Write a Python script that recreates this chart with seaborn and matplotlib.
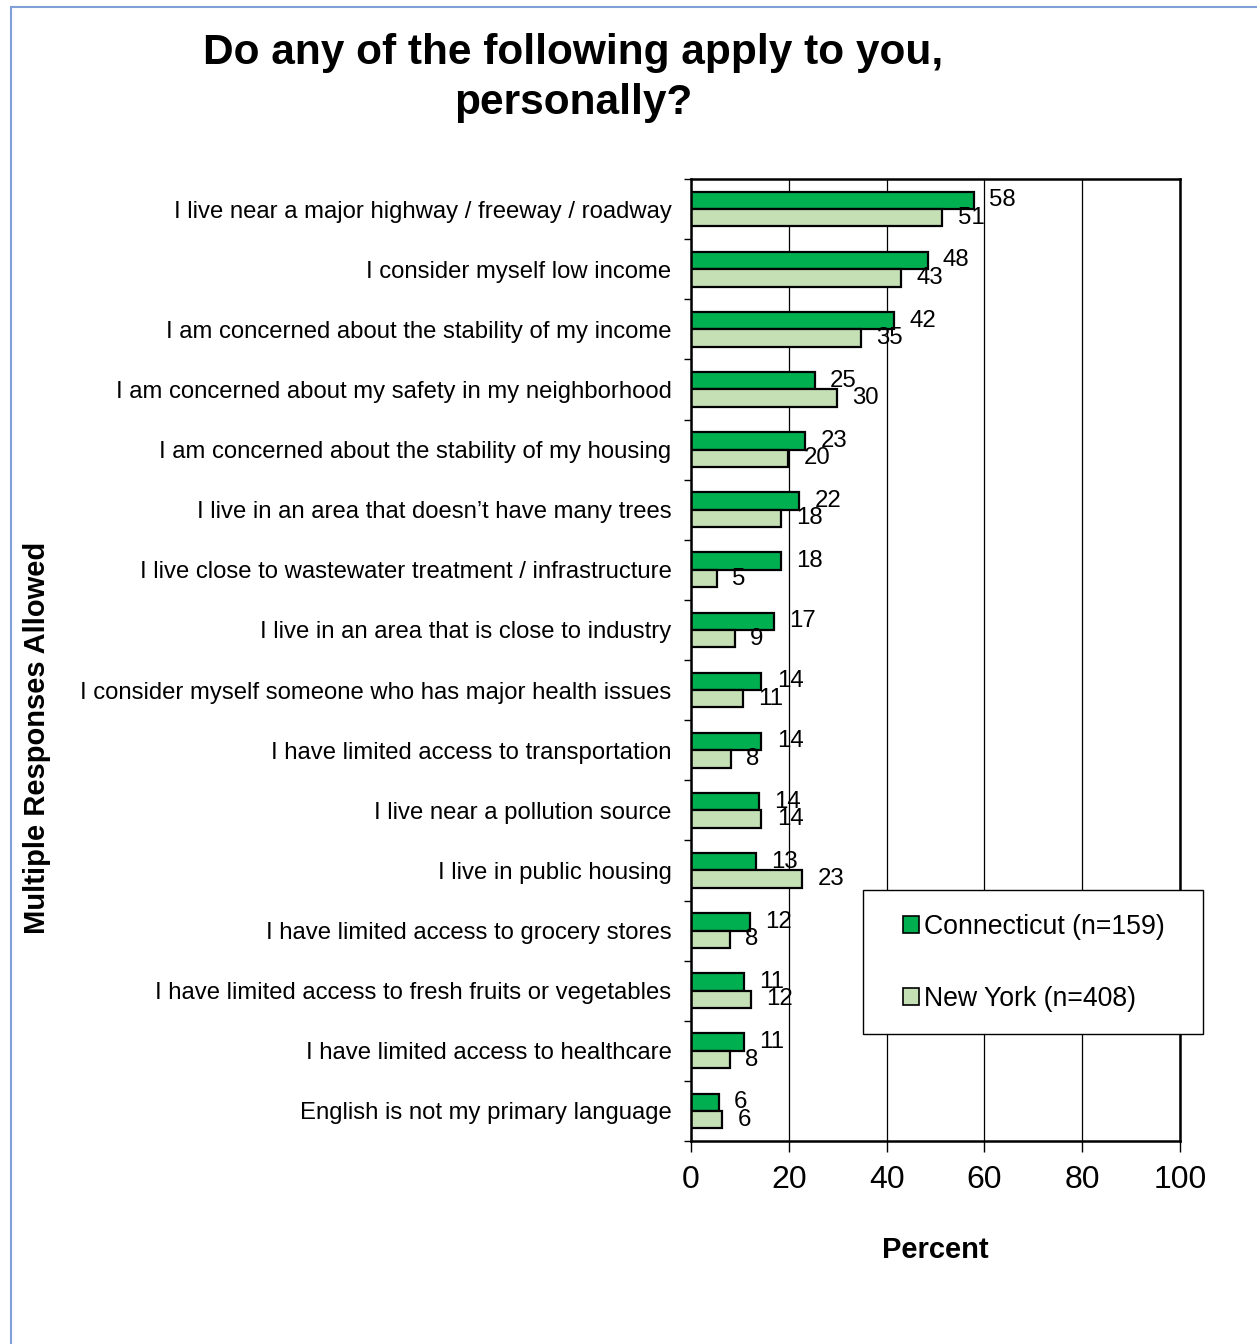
import pandas as pd
import numpy as np
import matplotlib.pyplot as plt
import seaborn as sns
from matplotlib.patches import Rectangle

sns.set_theme(style="white")
plt.rcParams['font.family'] = ['Liberation Sans', 'DejaVu Sans']
plt.rcParams['text.color'] = 'black'
plt.rcParams['axes.labelcolor'] = 'black'
plt.rcParams['xtick.color'] = 'black'
plt.rcParams['ytick.color'] = 'black'

# Data
items = [
    "I live near a major highway / freeway / roadway",
    "I consider myself low income",
    "I am concerned about the stability of my income",
    "I am concerned about my safety in my neighborhood",
    "I am concerned about the stability of my housing",
    "I live in an area that doesn\u2019t have many trees",
    "I live close to wastewater treatment / infrastructure",
    "I live in an area that is close to industry",
    "I consider myself someone who has major health issues",
    "I have limited access to transportation",
    "I live near a pollution source",
    "I live in public housing",
    "I have limited access to grocery stores",
    "I have limited access to fresh fruits or vegetables",
    "I have limited access to healthcare",
    "English is not my primary language",
]
ct_values = [57.9, 48.4, 41.6, 25.3, 23.4, 22.1, 18.4, 17.0, 14.4, 14.4, 13.9, 13.3, 12.1, 10.8, 10.8, 5.7]
ny_values = [51.4, 42.9, 34.8, 29.8, 19.9, 18.4, 5.3, 9.0, 10.6, 8.2, 14.4, 22.7, 8.0, 12.3, 8.0, 6.4]
series = ["Connecticut (n=159)", "New York (n=408)"]
colors = ["#00B050", "#C5E0B4"]

df = pd.DataFrame({
    'item': items * 2,
    'value': ct_values + ny_values,
    'state': [series[0]] * len(items) + [series[1]] * len(items),
})

fig = plt.figure(figsize=(12.57, 13.44), dpi=100)
ax = fig.add_axes([691 / 1257, 1 - 1141 / 1344, (1180 - 691) / 1257, (1141 - 179) / 1344])

sns.barplot(data=df, x='value', y='item', hue='state', orient='h',
            palette=colors, saturation=1, edgecolor='black', linewidth=1.6, width=0.58,
            order=items, hue_order=series, ax=ax, legend=False)

# data labels
for cont, vals in zip(ax.containers, [ct_values, ny_values]):
    ax.bar_label(cont, labels=[f"{v:.0f}" for v in vals], padding=11, fontsize=17.3)

ax.set_xlim(0, 100)
ax.set_ylim(15.5, -0.5)
ax.set_xticks([0, 20, 40, 60, 80, 100])
ax.set_yticks(np.arange(-0.5, 16, 1), minor=True)
ax.tick_params(axis='y', which='major', length=0, pad=14, labelsize=17.2)
ax.tick_params(axis='y', which='minor', left=True, length=5, width=1, color='black')
ax.tick_params(axis='x', which='major', bottom=True, length=8, width=1, color='black',
               pad=9, labelsize=23)
ax.xaxis.grid(True, color='black', linewidth=0.9)
ax.set_axisbelow(True)
for sp in ax.spines.values():
    sp.set_color('black')
    sp.set_linewidth(1.8)

ax.set_xlabel("Percent", fontsize=21, fontweight='bold', labelpad=30)
ax.set_ylabel("")
fig.text(37 / 1257, 1 - 738 / 1344, "Multiple Responses Allowed", rotation=90,
         fontsize=21, fontweight='bold', ha='center', va='center')

fig.text(573 / 1257, 1 - 78 / 1344, "Do any of the following apply to you,\npersonally?",
         fontsize=30.5, fontweight='bold', ha='center', va='center', linespacing=1.3)

# legend box and entries
fig.patches.append(Rectangle((863 / 1257, 1 - 1034 / 1344), 340 / 1257, 144 / 1344,
                             transform=fig.transFigure, facecolor='white',
                             edgecolor='black', linewidth=1.0, figure=fig, zorder=5))
handles = [Rectangle((0, 0), 1, 1, facecolor=c, edgecolor='black', linewidth=1.2) for c in colors]
leg = fig.legend(handles, series, loc='center left',
                 bbox_to_anchor=(903 / 1257, 1 - 963 / 1344),
                 fontsize=19.2, frameon=False,
                 handlelength=0.6, handleheight=0.6, handletextpad=0.2,
                 labelspacing=1.72, borderpad=0, borderaxespad=0)
leg.set_zorder(6)

# outer chart border
fig.patches.append(Rectangle((11 / 1257, -0.1), 1.2, 1 - 7 / 1344 + 0.1, transform=fig.transFigure,
                             fill=False, edgecolor='#7F9FD6', linewidth=1.5, figure=fig))

fig.savefig('out.png', dpi=100, facecolor='white')
